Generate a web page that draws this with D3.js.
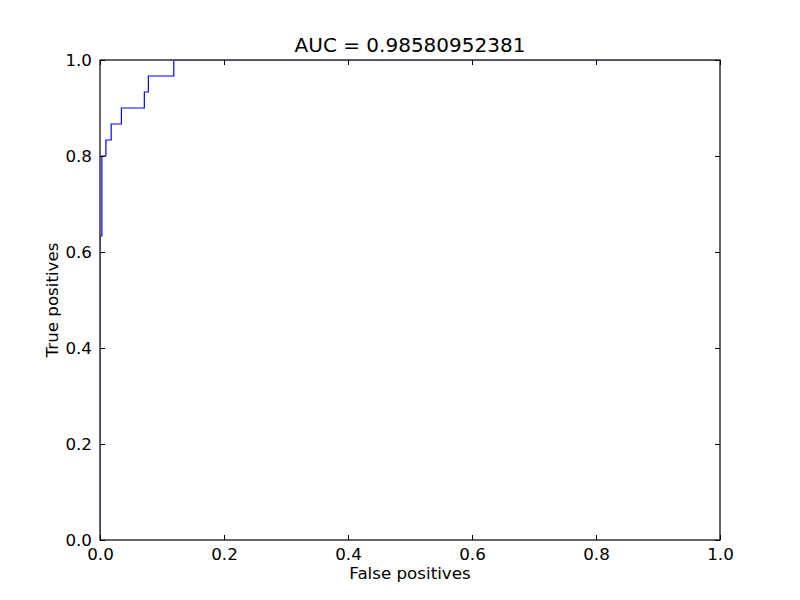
<!DOCTYPE html>
<html><head><meta charset="utf-8">
<script src="https://cdn.jsdelivr.net/npm/d3@7"></script>
<style>body{margin:0;background:#fff;} svg{display:block;} text{font-family:"DejaVu Sans",sans-serif;}</style>
</head><body>
<script>
const title = "AUC = 0.98580952381";
const xLabel = "False positives";
const yLabel = "True positives";
const fpr = [0, 0, 0.003, 0.0095, 0.018, 0.0345, 0.0715, 0.078, 0.119, 1.0];
const tpr = [0, 0.6333, 0.8, 0.8333, 0.8667, 0.9, 0.9333, 0.9667, 1.0, 1.0];
const xTicks = [0, 0.2, 0.4, 0.6, 0.8, 1.0];
const yTicks = [0, 0.2, 0.4, 0.6, 0.8, 1.0];

const W = 800, H = 600;
const m = {left:100, right:80, top:60, bottom:60};
const svg = d3.select("body").append("svg").attr("width", W).attr("height", H);
const x = d3.scaleLinear().domain([0,1]).range([m.left, W - m.right]);
const y = d3.scaleLinear().domain([0,1]).range([H - m.bottom, m.top]);

svg.append("clipPath").attr("id","clip").append("rect")
  .attr("x",x(0)+0.5).attr("y",y(1)+0.5).attr("width",x(1)-x(0)-1).attr("height",y(0)-y(1)-1);

const pts = fpr.map((f,i)=>[f, tpr[i]]);
svg.append("path").datum(pts).attr("clip-path","url(#clip)")
  .attr("fill","none").attr("stroke","#0000ff").attr("stroke-width",1.2)
  .attr("d", d3.line().x(d=>x(d[0])).y(d=>y(d[1])).curve(d3.curveStepAfter));

const fmt = d3.format(".1f");
const tl = 5;
function styleAxis(g){
  g.select(".domain").remove();
  g.selectAll(".tick line").attr("stroke","#000").attr("stroke-width",1);
  g.selectAll(".tick text").attr("font-size","16.7px").attr("fill","#000").attr("font-family","DejaVu Sans");
}
svg.append("g").attr("transform",`translate(0,${y(0)})`)
  .call(d3.axisBottom(x).tickValues(xTicks).tickFormat(fmt).tickSizeInner(-tl).tickSizeOuter(0).tickPadding(8))
  .call(styleAxis);
svg.append("g").attr("transform",`translate(0,${y(1)})`)
  .call(d3.axisTop(x).tickValues(xTicks).tickFormat("").tickSizeInner(-tl).tickSizeOuter(0))
  .call(styleAxis);
svg.append("g").attr("transform",`translate(${x(0)},0)`)
  .call(d3.axisLeft(y).tickValues(yTicks).tickFormat(fmt).tickSizeInner(-tl).tickSizeOuter(0).tickPadding(8))
  .call(styleAxis);
svg.append("g").attr("transform",`translate(${x(1)},0)`)
  .call(d3.axisRight(y).tickValues(yTicks).tickFormat("").tickSizeInner(-tl).tickSizeOuter(0))
  .call(styleAxis);

svg.append("rect").attr("x",x(0)).attr("y",y(1)).attr("width",x(1)-x(0)).attr("height",y(0)-y(1))
  .attr("fill","none").attr("stroke","#000").attr("stroke-width",1.2);

svg.append("text").attr("x",(x(0)+x(1))/2).attr("y",y(1)-8).attr("text-anchor","middle")
  .attr("font-size","20px").text(title);
svg.append("text").attr("x",(x(0)+x(1))/2).attr("y",579).attr("text-anchor","middle")
  .attr("font-size","16.7px").text(xLabel);
svg.append("text").attr("transform",`translate(58,${(y(0)+y(1))/2}) rotate(-90)`).attr("text-anchor","middle")
  .attr("font-size","16.7px").text(yLabel);
</script>
</body></html>
